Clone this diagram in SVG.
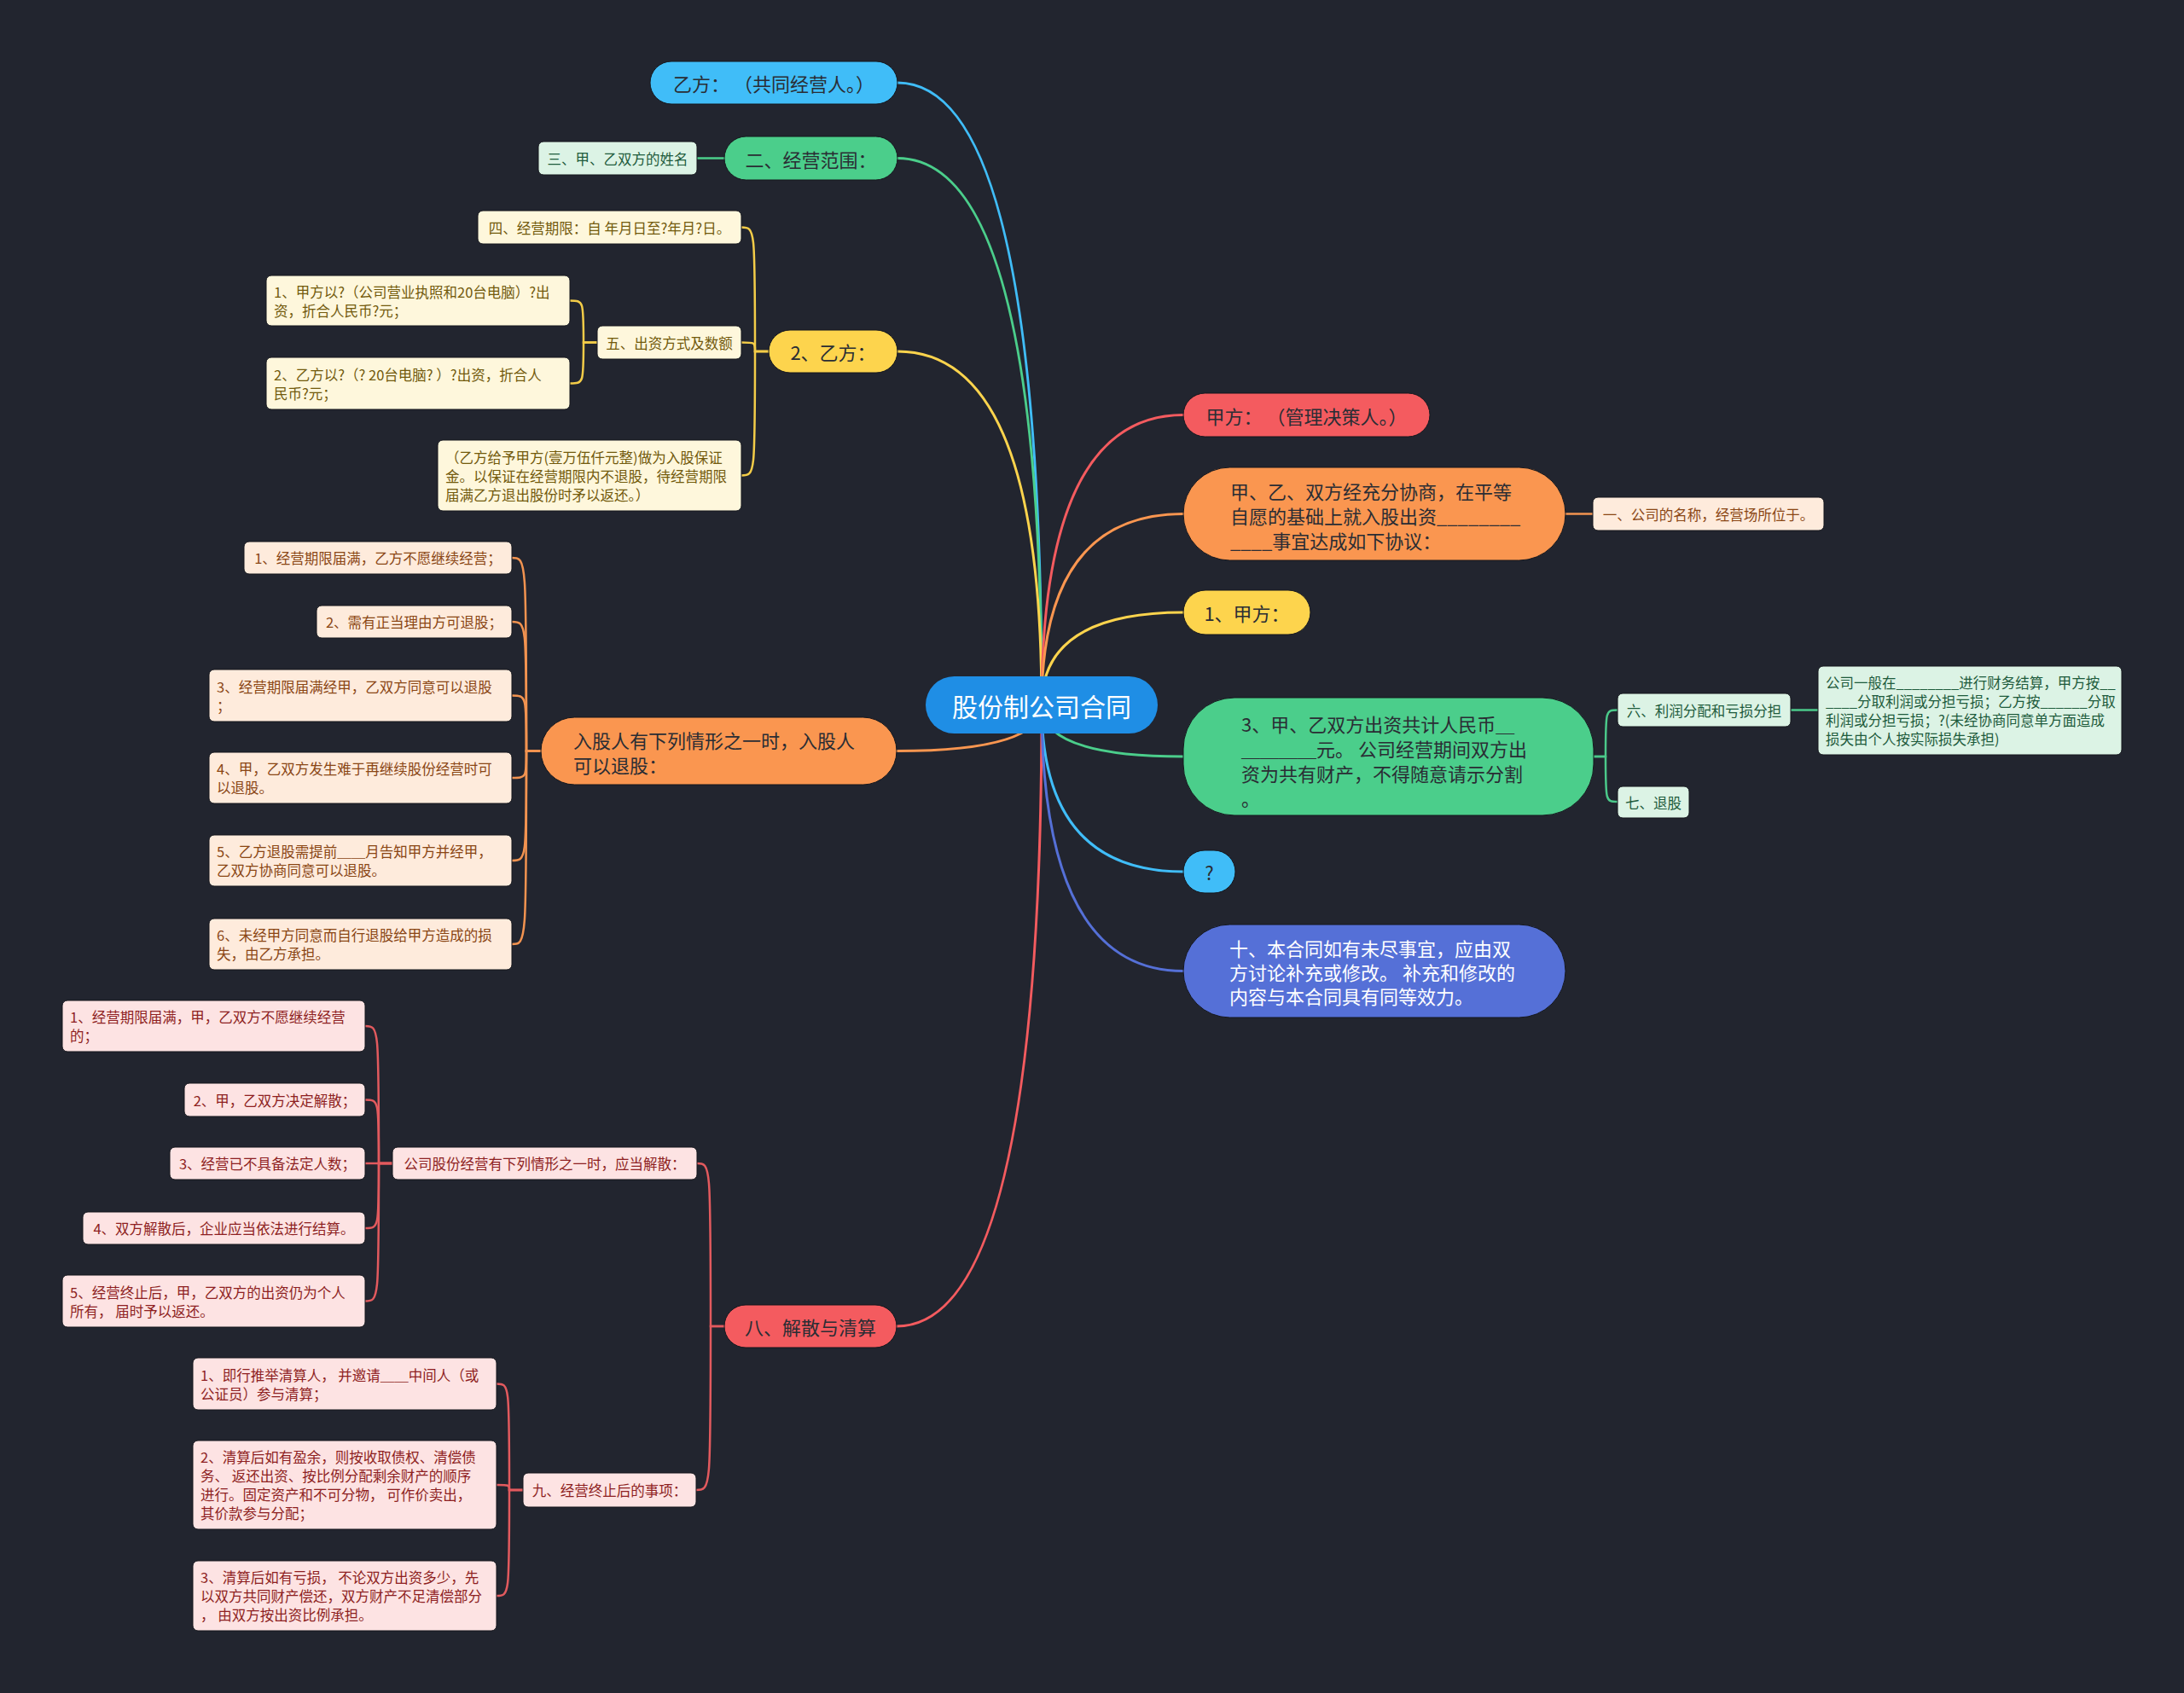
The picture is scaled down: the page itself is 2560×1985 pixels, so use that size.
<svg xmlns="http://www.w3.org/2000/svg" width="2560" height="1985" viewBox="0 0 2560 1985">
<style>
text{font-family:"Noto Sans CJK SC","Microsoft YaHei",sans-serif;dominant-baseline:central}
.c{text-anchor:middle}
.l1{font-size:22px;fill:#2a2d34}
.w{fill:#ffffff}
.s{font-size:16.5px}
.ty{fill:#725a0c}.fy{fill:#fef7dc}
.to{fill:#8a4614}.fo{fill:#feebdc}
.tr{fill:#8e1f22}.fr{fill:#fde3e3}
.tg{fill:#1e5b3c}.fg{fill:#dcf3e5}
.conn path{fill:none;stroke-linecap:round}
.m path{stroke-width:3}
.sb path{stroke-width:2.5}
.box{stroke:#15171d;stroke-width:1}
</style>
<rect width="2560" height="1985" fill="#22252f"/>
<g class="conn">
<g class="m">
<path d="M1221 827 Q1221 97 1052 97" stroke="#40bdf8"/>
<path d="M1221 827 Q1221 185.5 1052 185.5" stroke="#4bce8b"/>
<path d="M1221 827 Q1221 412 1052 412" stroke="#fdd44d"/>
<path d="M1221 827 Q1221 880.5 1051 880.5" stroke="#fa9650"/>
<path d="M1221 827 Q1221 1555 1051 1555" stroke="#f45b5f"/>
<path d="M1221 827 Q1221 486.5 1387 486.5" stroke="#f45b5f"/>
<path d="M1221 827 Q1221 602.5 1387 602.5" stroke="#fa9650"/>
<path d="M1221 827 Q1221 718 1387 718" stroke="#fdd44d"/>
<path d="M1221 827 Q1221 887 1387 887" stroke="#4bce8b"/>
<path d="M1221 827 Q1221 1022 1387 1022" stroke="#40bdf8"/>
<path d="M1221 827 Q1221 1138.5 1387 1138.5" stroke="#5570d7"/>
</g>
<g class="sb">
<path d="M817 185.5 H849" stroke="#4bce8b"/>
<path d="M901 412 H885 C885 266.5 885 266.5 869 266.5" stroke="#f3cc48"/>
<path d="M901 412 H885 C885 401.5 885 401.5 869 401.5" stroke="#f3cc48"/>
<path d="M901 412 H885 C885 557.5 885 557.5 869 557.5" stroke="#f3cc48"/>
<path d="M700 401.5 H684 C684 352.5 684 352.5 668 352.5" stroke="#f3cc48"/>
<path d="M700 401.5 H684 C684 449.5 684 449.5 668 449.5" stroke="#f3cc48"/>
<path d="M634 880.5 H617 C617 654 617 654 600 654" stroke="#f29350"/>
<path d="M634 880.5 H617 C617 729 617 729 600 729" stroke="#f29350"/>
<path d="M634 880.5 H617 C617 815.5 617 815.5 600 815.5" stroke="#f29350"/>
<path d="M634 880.5 H617 C617 912 617 912 600 912" stroke="#f29350"/>
<path d="M634 880.5 H617 C617 1009 617 1009 600 1009" stroke="#f29350"/>
<path d="M634 880.5 H617 C617 1107 617 1107 600 1107" stroke="#f29350"/>
<path d="M1835 602.5 H1867" stroke="#f29350"/>
<path d="M849 1555 H833 C833 1364 833 1364 817 1364" stroke="#e25a5e"/>
<path d="M849 1555 H833 C833 1747 833 1747 816 1747" stroke="#e25a5e"/>
<path d="M460 1364 H444 C444 1203 444 1203 428 1203" stroke="#e25a5e"/>
<path d="M460 1364 H444 C444 1289.5 444 1289.5 428 1289.5" stroke="#e25a5e"/>
<path d="M460 1364 H428" stroke="#e25a5e"/>
<path d="M460 1364 H444 C444 1440 444 1440 428 1440" stroke="#e25a5e"/>
<path d="M460 1364 H444 C444 1525.5 444 1525.5 428 1525.5" stroke="#e25a5e"/>
<path d="M613 1747 H597 C597 1622.5 597 1622.5 582 1622.5" stroke="#e25a5e"/>
<path d="M613 1747 H597 C597 1741 597 1741 582 1741" stroke="#e25a5e"/>
<path d="M613 1747 H597 C597 1871 597 1871 582 1871" stroke="#e25a5e"/>
<path d="M1868 887 H1882 C1882 832.5 1882 832.5 1896 832.5" stroke="#4bc98a"/>
<path d="M1868 887 H1882 C1882 940 1882 940 1896 940" stroke="#4bc98a"/>
<path d="M2099 832.5 H2131" stroke="#4bc98a"/>
</g>
</g>

<g id="root">
<rect x="1085" y="793" width="272" height="67" rx="33.5" fill="#1f8ee5"/>
<text x="1221" y="826.5" class="c w" font-size="30">股份制公司合同</text>
</g>

<g id="n-yifang">
<rect class="box" x="762" y="72" width="290" height="50" rx="25" fill="#40bdf8"/>
<text x="907" y="97" class="c l1">乙方： （共同经营人。）</text>
</g>
<g id="n-fanwei">
<rect class="box" x="849" y="160" width="203" height="51" rx="25.5" fill="#4bce8b"/>
<text x="950.5" y="185.5" class="c l1">二、经营范围：</text>
</g>
<g id="n-xingming">
<rect class="box fg" x="631" y="166" width="186" height="39" rx="6"/>
<text x="724" y="185.5" class="c s tg">三、甲、乙双方的姓名</text>
</g>
<g id="n-yifang2">
<rect class="box" x="901" y="387" width="151" height="50" rx="25" fill="#fdd44d"/>
<text x="976.5" y="412" class="c l1">2、乙方：</text>
</g>
<g id="n-qixian">
<rect class="box fy" x="560" y="247" width="309" height="39" rx="6"/>
<text x="714.5" y="266.5" class="c s ty">四、经营期限：自 年月日至?年月?日。</text>
</g>
<g id="n-chuzi">
<rect class="box fy" x="700" y="382" width="169" height="39" rx="6"/>
<text x="784.5" y="401.5" class="c s ty">五、出资方式及数额</text>
</g>
<g id="n-chuzi1">
<rect class="box fy" x="312" y="323" width="356" height="59" rx="6"/>
<text x="321" y="341.5" class="s ty">1、甲方以?（公司营业执照和20台电脑）?出</text>
<text x="321" y="363.5" class="s ty">资，折合人民币?元；</text>
</g>
<g id="n-chuzi2">
<rect class="box fy" x="312" y="419" width="356" height="61" rx="6"/>
<text x="321" y="438.5" class="s ty">2、乙方以?（? 20台电脑? ）?出资，折合人</text>
<text x="321" y="460.5" class="s ty">民币?元；</text>
</g>
<g id="n-baozheng">
<rect class="box fy" x="513" y="516" width="356" height="83" rx="6"/>
<text x="522" y="535.5" class="s ty">（乙方给予甲方(壹万伍仟元整)做为入股保证</text>
<text x="522" y="557.5" class="s ty">金。以保证在经营期限内不退股，待经营期限</text>
<text x="522" y="579.5" class="s ty">届满乙方退出股份时矛以返还。）</text>
</g>

<g id="n-tuigu">
<rect class="box" x="634" y="841" width="417" height="79" rx="39.5" fill="#fa9650"/>
<text x="672" y="866.5" class="l1">入股人有下列情形之一时，入股人</text>
<text x="672" y="895.5" class="l1">可以退股：</text>
</g>
<g id="n-tg1">
<rect class="box fo" x="286" y="635" width="314" height="38" rx="6"/>
<text x="443" y="654" class="c s to">1、经营期限届满，乙方不愿继续经营；</text>
</g>
<g id="n-tg2">
<rect class="box fo" x="371" y="710" width="229" height="38" rx="6"/>
<text x="485.5" y="729" class="c s to">2、需有正当理由方可退股；</text>
</g>
<g id="n-tg3">
<rect class="box fo" x="245" y="785" width="355" height="61" rx="6"/>
<text x="254" y="804.5" class="s to">3、经营期限届满经甲，乙双方同意可以退股</text>
<text x="254" y="826.5" class="s to">；</text>
</g>
<g id="n-tg4">
<rect class="box fo" x="245" y="882" width="355" height="60" rx="6"/>
<text x="254" y="901" class="s to">4、甲，乙双方发生难于再继续股份经营时可</text>
<text x="254" y="923" class="s to">以退股。</text>
</g>
<g id="n-tg5">
<rect class="box fo" x="245" y="979" width="355" height="60" rx="6"/>
<text x="254" y="998" class="s to">5、乙方退股需提前＿＿月告知甲方并经甲，</text>
<text x="254" y="1020" class="s to">乙双方协商同意可以退股。</text>
</g>
<g id="n-tg6">
<rect class="box fo" x="245" y="1077" width="355" height="60" rx="6"/>
<text x="254" y="1096" class="s to">6、未经甲方同意而自行退股给甲方造成的损</text>
<text x="254" y="1118" class="s to">失，由乙方承担。</text>
</g>

<g id="n-jiesan">
<rect class="box" x="849" y="1530" width="202" height="50" rx="25" fill="#f45b5f"/>
<text x="950" y="1555" class="c l1">八、解散与清算</text>
</g>
<g id="n-yingdang">
<rect class="box fr" x="460" y="1345" width="357" height="38" rx="6"/>
<text x="638.5" y="1364" class="c s tr">公司股份经营有下列情形之一时，应当解散：</text>
</g>
<g id="n-js1">
<rect class="box fr" x="73" y="1173" width="355" height="60" rx="6"/>
<text x="82" y="1192" class="s tr">1、经营期限届满，甲，乙双方不愿继续经营</text>
<text x="82" y="1214" class="s tr">的；</text>
</g>
<g id="n-js2">
<rect class="box fr" x="216" y="1270" width="212" height="39" rx="6"/>
<text x="322" y="1289.5" class="c s tr">2、甲，乙双方决定解散；</text>
</g>
<g id="n-js3">
<rect class="box fr" x="199" y="1345" width="229" height="38" rx="6"/>
<text x="313.5" y="1364" class="c s tr">3、经营已不具备法定人数；</text>
</g>
<g id="n-js4">
<rect class="box fr" x="97" y="1421" width="331" height="38" rx="6"/>
<text x="262.5" y="1440" class="c s tr">4、双方解散后，企业应当依法进行结算。</text>
</g>
<g id="n-js5">
<rect class="box fr" x="73" y="1495" width="355" height="61" rx="6"/>
<text x="82" y="1514.5" class="s tr">5、经营终止后，甲，乙双方的出资仍为个人</text>
<text x="82" y="1536.5" class="s tr">所有， 届时予以返还。</text>
</g>
<g id="n-zhongzhi">
<rect class="box fr" x="613" y="1727" width="203" height="40" rx="6"/>
<text x="714.5" y="1747" class="c s tr">九、经营终止后的事项：</text>
</g>
<g id="n-qs1">
<rect class="box fr" x="226" y="1592" width="356" height="61" rx="6"/>
<text x="235" y="1611.5" class="s tr">1、即行推举清算人， 并邀请＿＿中间人（或</text>
<text x="235" y="1633.5" class="s tr">公证员）参与清算；</text>
</g>
<g id="n-qs2">
<rect class="box fr" x="226" y="1689" width="356" height="104" rx="6"/>
<text x="235" y="1708" class="s tr">2、清算后如有盈余，则按收取债权、清偿债</text>
<text x="235" y="1730" class="s tr">务、 返还出资、按比例分配剩余财产的顺序</text>
<text x="235" y="1752" class="s tr">进行。固定资产和不可分物， 可作价卖出，</text>
<text x="235" y="1774" class="s tr">其价款参与分配；</text>
</g>
<g id="n-qs3">
<rect class="box fr" x="226" y="1830" width="356" height="82" rx="6"/>
<text x="235" y="1849" class="s tr">3、清算后如有亏损， 不论双方出资多少，先</text>
<text x="235" y="1871" class="s tr">以双方共同财产偿还，双方财产不足清偿部分</text>
<text x="235" y="1893" class="s tr">， 由双方按出资比例承担。</text>
</g>

<g id="n-jiafang">
<rect class="box" x="1387" y="461" width="289" height="51" rx="25.5" fill="#f45b5f"/>
<text x="1531.5" y="486.5" class="c l1">甲方： （管理决策人。）</text>
</g>
<g id="n-xieshang">
<rect class="box" x="1387" y="548" width="448" height="109" rx="54.5" fill="#fa9650"/>
<text x="1442" y="575" class="l1">甲、乙、双方经充分协商，在平等</text>
<text x="1442" y="604" class="l1">自愿的基础上就入股出资________</text>
<text x="1442" y="633" class="l1">____事宜达成如下协议：</text>
</g>
<g id="n-mingcheng">
<rect class="box fo" x="1867" y="583" width="271" height="39" rx="6"/>
<text x="2002.5" y="602.5" class="c s to">一、公司的名称，经营场所位于。</text>
</g>
<g id="n-jiafang1">
<rect class="box" x="1387" y="692" width="149" height="52" rx="26" fill="#fdd44d"/>
<text x="1461.5" y="718" class="c l1">1、甲方：</text>
</g>
<g id="n-gongji">
<rect class="box" x="1387" y="818" width="481" height="138" rx="60" fill="#4bce8b"/>
<text x="1455" y="848" class="l1">3、甲、乙双方出资共计人民币＿</text>
<text x="1455" y="877" class="l1">＿＿＿＿元。 公司经营期间双方出</text>
<text x="1455" y="906" class="l1">资为共有财产，不得随意请示分割</text>
<text x="1455" y="935" class="l1">。</text>
</g>
<g id="n-lirun">
<rect class="box fg" x="1896" y="813" width="203" height="39" rx="6"/>
<text x="1997.5" y="832.5" class="c s tg">六、利润分配和亏损分担</text>
</g>
<g id="n-lirun-detail">
<rect class="box fg" x="2131" y="781" width="356" height="104" rx="6"/>
<text x="2140" y="800" class="s tg">公司一般在________进行财务结算，甲方按__</text>
<text x="2140" y="822" class="s tg">____分取利润或分担亏损；乙方按______分取</text>
<text x="2140" y="844" class="s tg">利润或分担亏损；?(未经协商同意单方面造成</text>
<text x="2140" y="866" class="s tg">损失由个人按实际损失承担)</text>
</g>
<g id="n-tuigu7">
<rect class="box fg" x="1896" y="922" width="84" height="37" rx="6"/>
<text x="1938" y="940.5" class="c s tg">七、退股</text>
</g>
<g id="n-q">
<rect class="box" x="1387" y="997" width="61" height="50" rx="25" fill="#40bdf8"/>
<text x="1417.5" y="1022" class="c l1">?</text>
</g>
<g id="n-shi">
<rect class="box" x="1387" y="1084" width="448" height="109" rx="54.5" fill="#5570d7"/>
<text x="1441" y="1111" class="w" font-size="22">十、本合同如有未尽事宜，应由双</text>
<text x="1441" y="1139" class="w" font-size="22">方讨论补充或修改。 补充和修改的</text>
<text x="1441" y="1167" class="w" font-size="22">内容与本合同具有同等效力。</text>
</g>
</svg>
